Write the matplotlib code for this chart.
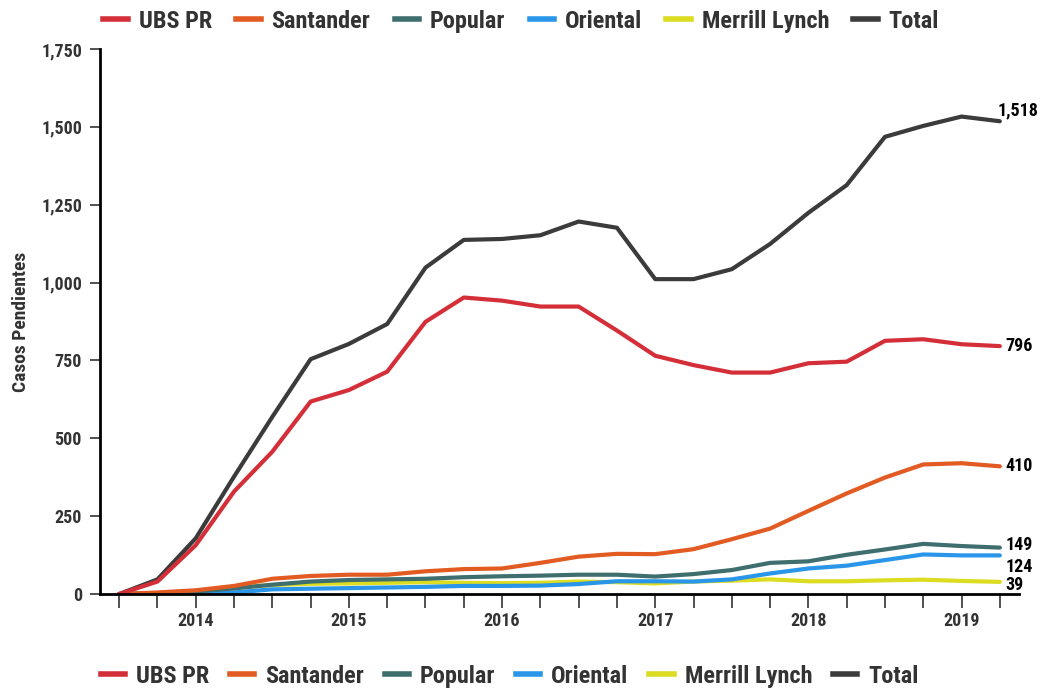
import matplotlib
matplotlib.use('Agg')
import matplotlib.pyplot as plt
from matplotlib import ticker, font_manager
from matplotlib.lines import Line2D

# data (quarterly, Q3 2013 .. Q2 2019)

quarters = ['2013-Q3', '2013-Q4',
            '2014-Q1', '2014-Q2', '2014-Q3', '2014-Q4',
            '2015-Q1', '2015-Q2', '2015-Q3', '2015-Q4',
            '2016-Q1', '2016-Q2', '2016-Q3', '2016-Q4',
            '2017-Q1', '2017-Q2', '2017-Q3', '2017-Q4',
            '2018-Q1', '2018-Q2', '2018-Q3', '2018-Q4',
            '2019-Q1', '2019-Q2']

ubs_pr = [0, 40, 157, 329, 457, 618, 655, 714, 874, 952, 942, 923,
          923, 846, 765, 735, 711, 711, 741, 746, 813, 818, 802, 796]
santander = [0, 5, 12, 26, 49, 58, 62, 62, 73, 80, 82, 100,
             120, 129, 128, 144, 176, 210, 267, 323, 374, 416, 420, 410]
popular = [0, 3, 8, 18, 30, 40, 45, 47, 49, 54, 57, 59,
           62, 62, 56, 64, 77, 100, 105, 126, 143, 161, 154, 149]
oriental = [0, 0, 2, 5, 15, 17, 19, 21, 23, 26, 26, 27,
            32, 41, 41, 40, 47, 66, 82, 91, 109, 127, 124, 124]
merrill = [0, 3, 10, 21, 29, 33, 34, 36, 38, 36, 35, 36,
           40, 38, 34, 40, 43, 47, 41, 41, 44, 46, 42, 39]
total = [0, 47, 179, 377, 569, 754, 803, 867, 1048, 1137, 1140, 1152,
         1196, 1176, 1011, 1011, 1043, 1124, 1224, 1313, 1468, 1503, 1533, 1518]

series = [
    ('UBS PR', ubs_pr, '#d42f38'),
    ('Santander', santander, '#e25b22'),
    ('Popular', popular, '#3e6e6e'),
    ('Oriental', oriental, '#2a96ea'),
    ('Merrill Lynch', merrill, '#dcdc20'),
    ('Total', total, '#3b3b3b'),
]

# end label offsets in points (dx, dy)
end_offsets = {
    'UBS PR': (4, 0),
    'Santander': (4, 0),
    'Popular': (4, 2),
    'Oriental': (4, -8),
    'Merrill Lynch': (4, -2),
    'Total': (-2, 8),
}


def pick_font():
    # prefer a narrow bold face, the reference uses a condensed sans
    fonts = font_manager.fontManager.ttflist
    for key in ('RobotoCondensed', 'Roboto Condensed', 'LiberationSansNarrow', 'SansCondensed',
                'Condensed', 'Narrow'):
        for f in fonts:
            path = f.fname.replace('-', '')
            if key.replace(' ', '') in path.replace(' ', '') and f.weight in ('bold', 700, 'Bold'):
                return font_manager.FontProperties(fname=f.fname)
    for f in fonts:
        if f.name == 'Roboto' and f.weight in ('bold', 700):
            return font_manager.FontProperties(fname=f.fname)
    return font_manager.FontProperties(family='DejaVu Sans', weight='bold')


def fp(size):
    p = pick_font().copy()
    p.set_size(size)
    return p


def add_legend(fig, handles, labels, center, spacing):
    fig.legend(handles, labels, loc='center', bbox_to_anchor=center, ncol=6, frameon=False,
               handlelength=1.0, handletextpad=0.45, columnspacing=spacing,
               prop=fp(17.5), labelcolor='#333333')


def plot_chart():
    fig = plt.figure(figsize=(10.53, 6.88), dpi=100)
    ax = fig.add_axes([0.095, 0.1366, 0.8727, 0.7922])
    x = list(range(len(quarters)))

    for name, values, color in reversed(series):
        ax.plot(x, values, '-', color=color, linewidth=3.0, solid_capstyle='round',
                solid_joinstyle='round', label=name)
        dx, dy = end_offsets[name]
        ax.annotate(f'{values[-1]:,}', (x[-1], values[-1]), xytext=(dx, dy),
                    textcoords='offset points', ha='left', va='center',
                    fontproperties=fp(13), color='black')

    ax.set_xlim(-0.5, len(quarters) - 0.5)
    ax.set_ylim(0, 1750)
    ax.set_xticks(x)
    ax.set_xticklabels([q[:4] if q.endswith('Q1') else '' for q in quarters])
    ax.yaxis.set_major_locator(ticker.MultipleLocator(250))
    ax.yaxis.set_major_formatter(ticker.FuncFormatter(lambda v, p: f'{int(v):,}'))

    for side in ('top', 'right'):
        ax.spines[side].set_visible(False)
    for side in ('left', 'bottom'):
        ax.spines[side].set_linewidth(2)
        ax.spines[side].set_color('black')

    ax.tick_params(axis='x', length=10, width=1.2, color='#333333', pad=3, labelcolor='#333333')
    ax.tick_params(axis='y', length=7, width=1.2, color='#333333', pad=6, labelcolor='#333333')
    for lab in ax.get_xticklabels() + ax.get_yticklabels():
        lab.set_fontproperties(fp(13))

    ax.set_ylabel('Casos Pendientes', fontproperties=fp(14), color='#333333', labelpad=8)

    handles = [Line2D([], [], color=c, linewidth=4) for _, _, c in series]
    labels = [n for n, _, _ in series]
    add_legend(fig, handles, labels, (0.495, 0.969), 1.0)
    add_legend(fig, handles, labels, (0.484, 0.017), 0.85)

    fig.savefig('out.png', dpi=100)


if __name__ == '__main__':
    plot_chart()
